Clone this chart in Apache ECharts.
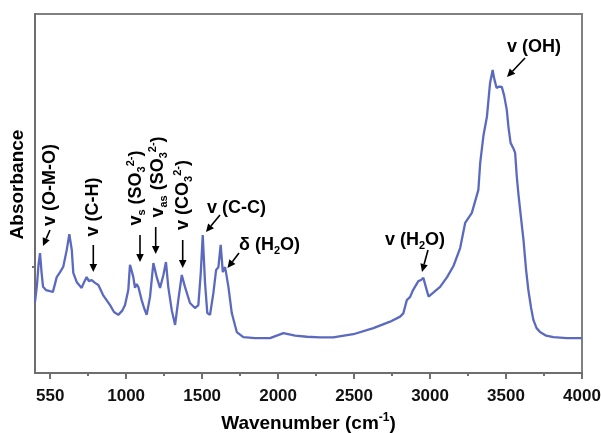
<!DOCTYPE html>
<html><head><meta charset="utf-8">
<script src="https://cdn.jsdelivr.net/npm/echarts@6/dist/echarts.min.js"></script>
<style>html,body{margin:0;padding:0;background:#fff}#c{width:601px;height:433px}</style>
</head><body><div id="c"></div>
<script>
const wavenumber = [400,413,423,433,443,453,472,499,518,543,
565,586,609,626,642,652,675,707,723,740,
755,773,795,817,848,894,920,948,973,992,
1014,1025,1035,1047,1058,1069,1080,1102,1118,1135,
1147,1157,1179,1190,1201,1223,1245,1262,1277,1300,
1322,1343,1366,1387,1420,1453,1475,1491,1504,1519,
1534,1552,1574,1592,1607,1622,1636,1651,1673,1695,
1728,1771,1848,1947,2035,2112,2189,2276,2362,2495,
2627,2737,2803,2824,2847,2869,2888,2923,2941,2956,
2974,2990,3027,3066,3112,3154,3198,3231,3275,3318,
3330,3352,3374,3395,3412,3421,3438,3455,3472,3487,
3505,3516,3530,3547,3560,3571,3582,3593,3615,3632,
3647,3665,3680,3701,3724,3764,3812,3900,4000];
const absorbance = [0.198,0.245,0.301,0.334,0.281,0.240,0.231,0.228,0.226,0.267,
0.281,0.296,0.343,0.387,0.343,0.279,0.253,0.237,0.253,0.267,
0.256,0.259,0.251,0.245,0.217,0.189,0.170,0.162,0.173,0.189,
0.231,0.301,0.287,0.267,0.237,0.248,0.240,0.203,0.181,0.162,
0.189,0.212,0.306,0.287,0.267,0.237,0.273,0.309,0.240,0.175,
0.134,0.203,0.273,0.240,0.195,0.181,0.189,0.279,0.384,0.251,
0.167,0.162,0.223,0.287,0.295,0.357,0.281,0.295,0.240,0.167,
0.114,0.100,0.097,0.097,0.111,0.104,0.101,0.099,0.099,0.108,
0.125,0.143,0.157,0.166,0.203,0.212,0.231,0.256,0.259,0.265,
0.237,0.213,0.226,0.240,0.267,0.298,0.348,0.418,0.446,0.510,
0.585,0.663,0.713,0.808,0.844,0.822,0.794,0.798,0.797,0.774,
0.733,0.685,0.641,0.627,0.613,0.546,0.496,0.454,0.370,0.287,
0.231,0.181,0.148,0.125,0.114,0.104,0.100,0.097,0.097];
const xTickValues = [500,1000,1500,2000,2500,3000,3500,4000];
const xTickLabels = ["550","1000","1500","2000","2500","3000","3500","4000"];
const xMinorTickValues = [750,1250,1750,2250,2750,3250,3750];
const yTickValues = [0.295];

const FONT = "'Liberation Sans', Arial, Helvetica, sans-serif";
const rich = {
  sub: {fontSize: 11, lineHeight: 9, verticalAlign: 'bottom', fontWeight: 'bold', fontFamily: FONT, fill: '#000'},
  sup: {fontSize: 11, lineHeight: 9, verticalAlign: 'top', fontWeight: 'bold', fontFamily: FONT, fill: '#000'}
};
function label(text, x, y, rotated, align) {
  return {
    type: 'text', x: x, y: y, rotation: rotated ? Math.PI / 2 : 0, z: 100,
    style: {text: text, rich: rich, fontSize: 18, fontWeight: 'bold', fontFamily: FONT, fill: '#000',
      lineHeight: 22, align: align || 'center', verticalAlign: 'middle'}
  };
}
function arrow(x1, y1, x2, y2) {
  const dx = x2 - x1, dy = y2 - y1, L = Math.hypot(dx, dy), ux = dx / L, uy = dy / L;
  const hl = 8, hw = 3.8;
  const bx = x2 - ux * hl, by = y2 - uy * hl;
  return [
    {type: 'line', z: 100, shape: {x1: x1, y1: y1, x2: bx, y2: by}, style: {stroke: '#000', lineWidth: 1.6}},
    {type: 'polygon', z: 100, shape: {points: [[x2, y2], [bx - uy * hw, by + ux * hw], [bx + uy * hw, by - ux * hw]]}, style: {fill: '#000'}}
  ];
}
const annotations = [
  label('v (O-M-O)', 50, 185, true),
  label('v (C-H)', 93, 207, true),
  label('v{sub|s} (SO{sub|3}{sup|2-})', 136.5, 188, true),
  label('v{sub|as} (SO{sub|3}{sup|2-})', 158, 177, true),
  label('v (CO{sub|3}{sup|2-})', 183, 195, true),
  label('v (C-C)', 207, 208, false, 'left'),
  label('δ (H{sub|2}O)', 239, 245, false, 'left'),
  label('v (H{sub|2}O)', 385, 240, false, 'left'),
  label('v (OH)', 507, 47, false, 'left'),
  ...arrow(50, 230, 43, 246),
  ...arrow(93.3, 245, 93.3, 272),
  ...arrow(140, 235, 140, 262),
  ...arrow(155.7, 227, 155.7, 254),
  ...arrow(182.7, 240, 182.7, 268),
  ...arrow(220, 215, 206, 232),
  ...arrow(239, 253, 227.5, 268),
  ...arrow(428, 250, 422, 272),
  ...arrow(525, 58, 507, 77)
];

const chart = echarts.init(document.getElementById('c'), null, {renderer: 'canvas'});
chart.setOption({
  animation: false,
  backgroundColor: '#fff',
  grid: {left: 35, right: 19, top: 14, bottom: 60, containLabel: false, outerBoundsMode: 'none',
    show: true, borderColor: '#808080', borderWidth: 2},
  xAxis: [{
    type: 'value', min: 400, max: 4000,
    name: 'Wavenumber (cm{sup|-1})', nameLocation: 'middle', nameGap: 39, nameMoveOverlap: false,
    nameTextStyle: {fontSize: 19, fontWeight: 'bold', fontFamily: FONT, color: '#000', lineHeight: 24,
      rich: {sup: {fontSize: 12, lineHeight: 10, verticalAlign: 'top', fontWeight: 'bold', fontFamily: FONT, color: '#000'}}},
    axisLine: {show: true, onZero: false, lineStyle: {color: '#6e6e6e', width: 2}},
    axisTick: {show: true, length: 6, customValues: xTickValues, lineStyle: {color: '#6e6e6e', width: 2}},
    axisLabel: {show: true, customValues: xTickValues, margin: 15, fontSize: 17, fontWeight: 'bold', fontFamily: FONT, color: '#111',
      formatter: function (v) { const i = xTickValues.indexOf(v); return i >= 0 ? xTickLabels[i] : ''; }},
    splitLine: {show: false}
  }, {
    type: 'value', min: 400, max: 4000, position: 'bottom', offset: 0,
    axisLine: {show: false},
    axisTick: {show: true, length: 3, customValues: xMinorTickValues, lineStyle: {color: '#6e6e6e', width: 2}},
    axisLabel: {show: false}, splitLine: {show: false}
  }],
  yAxis: {
    type: 'value', min: 0, max: 1,
    name: 'Absorbance', nameLocation: 'middle', nameGap: 8, nameMoveOverlap: false,
    nameTextStyle: {fontSize: 19, fontWeight: 'bold', fontFamily: FONT, color: '#000', padding: [0, 0, 0, 18]},
    axisLine: {show: true, onZero: false, lineStyle: {color: '#6e6e6e', width: 2}},
    axisTick: {show: true, length: 3, customValues: yTickValues, lineStyle: {color: '#6e6e6e', width: 2}},
    axisLabel: {show: false}, splitLine: {show: false}
  },
  series: [{
    type: 'line', xAxisIndex: 0, yAxisIndex: 0, showSymbol: false, symbol: 'none',
    lineStyle: {color: '#5b6abf', width: 2.3},
    data: wavenumber.map((w, i) => [w, absorbance[i]])
  }],
  graphic: annotations
});
</script></body></html>
